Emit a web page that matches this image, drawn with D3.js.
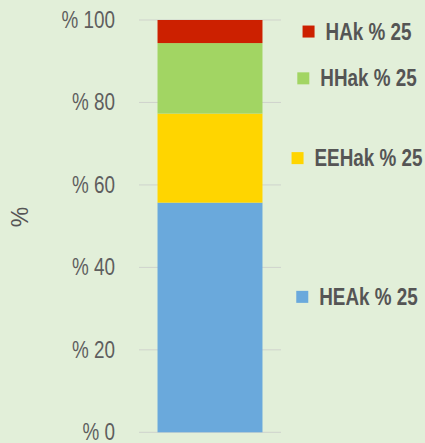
<!DOCTYPE html>
<html><head><meta charset="utf-8">
<script src="https://cdn.jsdelivr.net/npm/d3@7"></script>
<style>
html,body{margin:0;padding:0;background:#e2efd9;}
svg{display:block;}
text{font-family:"Liberation Sans",Arial,sans-serif;}
</style></head>
<body>
<svg id="chart" width="425" height="443"></svg>
<script>
// Data
const categories = ["HEAk % 25", "EEHak % 25", "HHak % 25", "HAk % 25"];
const values = [55.7, 21.6, 17.1, 5.6];
const colors = ["#6aa9dc", "#ffd500", "#a2d563", "#cc2000"];
const tickValues = [0, 20, 40, 60, 80, 100];
const tickLabel = d => "% " + d;
const axisTitle = "%";

const SX = 0.82; // condensed look
const W = 425, H = 443;
const margin = {top: 20, right: 144, bottom: 10.7, left: 139};
const svg = d3.select("#chart");
const iw = W - margin.left - margin.right, ih = H - margin.top - margin.bottom;
const g = svg.append("g").attr("transform", `translate(${margin.left},${margin.top})`);

const y = d3.scaleLinear().domain([0, 100]).range([ih, 0]);
const x = d3.scaleBand().domain(["all"]).range([0, iw]).paddingInner(0.15).paddingOuter(0.15);

// gridlines
g.append("g").selectAll("line").data(tickValues).join("line")
  .attr("x1", 0).attr("x2", iw)
  .attr("y1", d => y(d)).attr("y2", d => y(d))
  .attr("stroke", "#cfd3cc").attr("stroke-width", 1);

// axis
const axis = d3.axisLeft(y).tickValues(tickValues).tickFormat(tickLabel).tickSize(0).tickPadding(24);
const ag = g.append("g").call(axis);
ag.select(".domain").remove();
ag.selectAll("text").attr("font-size", 23).attr("fill", "#5e5e5e")
  .attr("font-family", '"Liberation Sans",Arial,sans-serif')
  .attr("x", -24 / SX).attr("transform", `scale(${SX},1)`);

// stack
let cum = 0;
const segs = values.map((v, i) => { const s = {i, y0: cum, y1: cum + v, name: categories[i], color: colors[i]}; cum += v; return s; });

g.append("g").selectAll("rect").data(segs).join("rect")
  .attr("x", x("all")).attr("width", x.bandwidth())
  .attr("y", d => y(d.y1)).attr("height", d => y(d.y0) - y(d.y1))
  .attr("fill", d => d.color);

// legend labels, placed beside their segments
const legendCx = margin.left + iw + 76;
const lg = svg.append("g");
segs.forEach(d => {
  const lo = Math.max(d.y0, 10);
  const cy = margin.top + y((lo + d.y1) / 2);
  const item = lg.append("g");
  const t = item.append("text").text(d.name)
    .attr("font-size", 23).attr("font-weight", "bold").attr("fill", "#555555")
    .attr("x", 23 / SX).attr("y", 0).attr("dy", "0.35em")
    .attr("transform", `scale(${SX},1)`);
  const tw = t.node().getComputedTextLength() * SX;
  item.append("rect").attr("x", 0).attr("y", -6).attr("width", 12).attr("height", 12).attr("fill", d.color);
  const total = 23 + tw;
  item.attr("transform", `translate(${legendCx - total / 2},${cy})`);
});

// axis title
svg.append("text").text(axisTitle)
  .attr("transform", "translate(20,217) rotate(-90)")
  .attr("text-anchor", "middle").attr("dy", "0.35em")
  .attr("font-size", 23).attr("fill", "#555555");
</script>
</body></html>
